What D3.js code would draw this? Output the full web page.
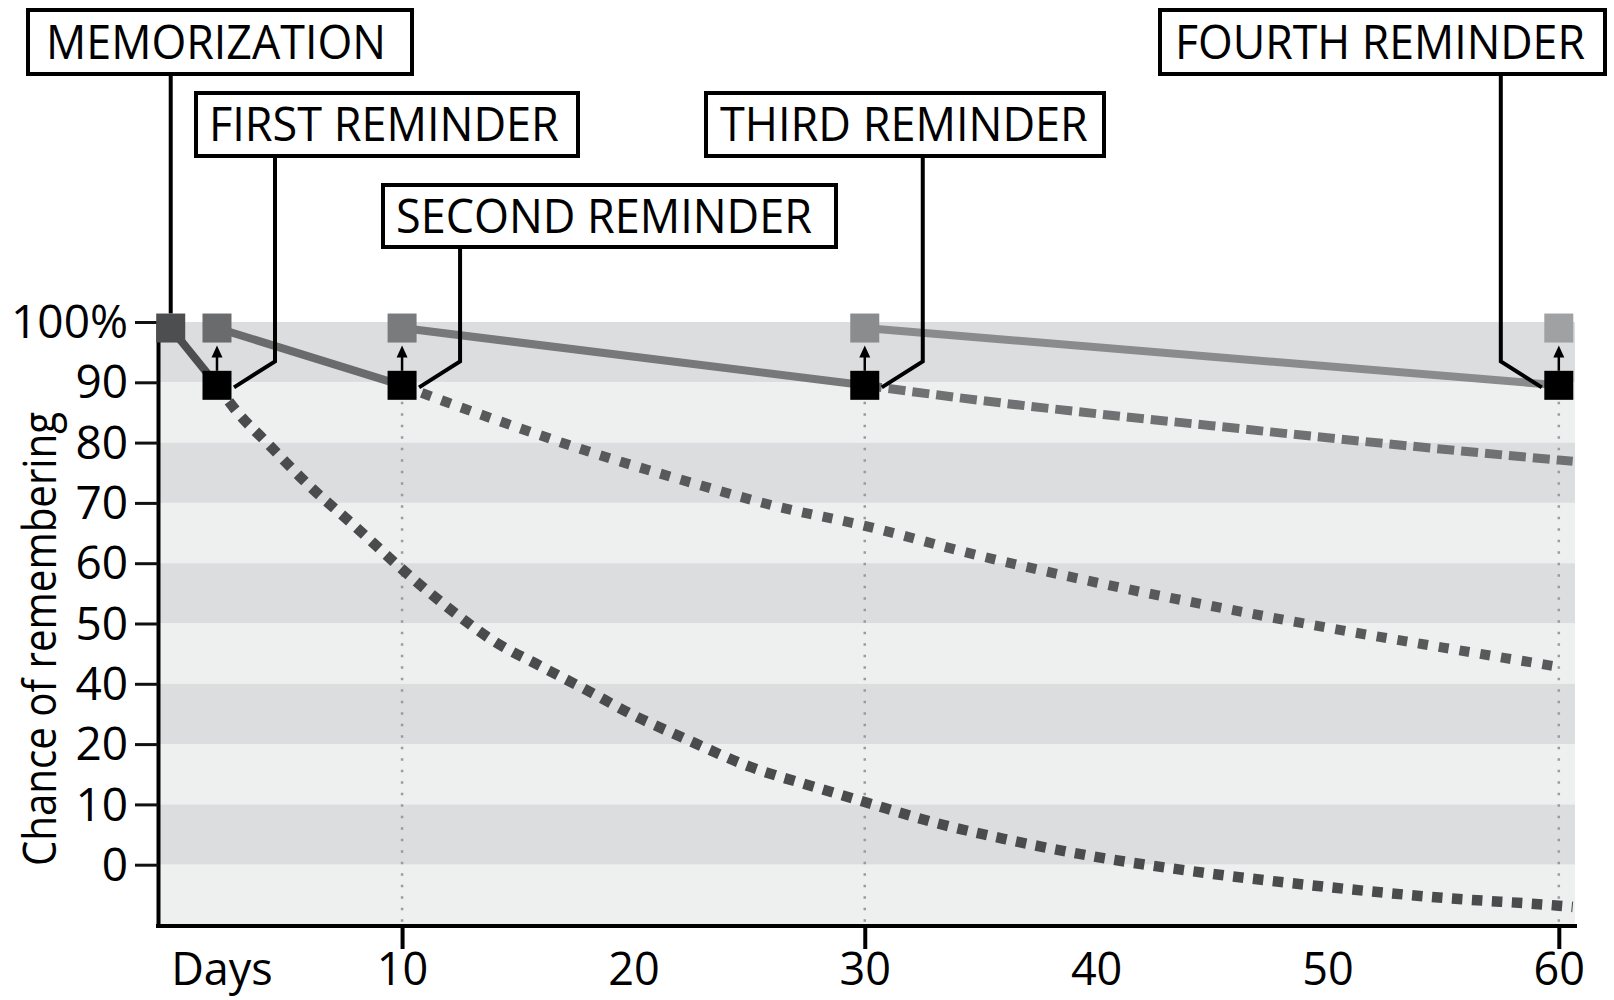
<!DOCTYPE html>
<html><head><meta charset="utf-8">
<script src="https://cdn.jsdelivr.net/npm/d3@7/dist/d3.min.js"></script>
<style>body{margin:0;background:#fff}svg{display:block}</style>
</head><body><svg id="c" width="1614" height="1000"></svg>
<script>
// ---------- data ----------
const reminderDays = [0, 2, 10, 30, 60];
const peakValue = 99;     // grey squares (after a review)
const dropValue = 89.5;   // black squares (just before a review)

const yTickValues = [100, 90, 80, 70, 60, 50, 40, 30, 20, 10];
const yTickLabels = ["100%", "90", "80", "70", "60", "50", "40", "20", "10", "0"];
const xTickValues = [10, 20, 30, 40, 50, 60];
const xTickLabels = ["10", "20", "30", "40", "50", "60"];
const xTickMarkDays = [10, 30, 60];

const decay1Days   = [2, 3, 4, 6, 8, 10, 12, 14, 16, 18, 20, 22, 25, 28, 30, 33, 36, 40, 45, 50, 55, 60, 60.6];
const decay1Values = [89.5, 84.5, 80.6, 72.8, 66, 59, 52.6, 47, 42.9, 38.9, 34.8, 31.3, 26.3, 22.7, 20.4, 17, 14.3, 11.3, 8.5, 6.3, 4.5, 3.2, 3.0];
const decay2Days   = [10, 12, 15, 18, 20, 23, 26, 30, 35, 40, 45, 50, 55, 60];
const decay2Values = [89.5, 86.6, 82.5, 78.6, 76.2, 72.8, 69.6, 66.2, 61.2, 56.8, 52.9, 49.3, 46, 42.8];
const decay3Days   = [30, 35, 40, 45, 50, 55, 60, 60.6];
const decay3Values = [89.5, 87, 84.8, 82.8, 80.8, 78.9, 77.1, 76.9];

const annotationLabels = ["MEMORIZATION", "FIRST REMINDER", "SECOND REMINDER", "THIRD REMINDER", "FOURTH REMINDER"];

// ---------- styles / layout ----------
const FONT = "'Open Sans', 'Noto Sans', sans-serif";
const peakColors = ["#4d4e50", "#6a6b6d", "#7a7b7d", "#8b8c8e", "#a0a1a3"];
const segColors  = ["#4d4e50", "#6a6b6d", "#77787a", "#8a8b8d"];
const boxLayout = [
  {x0: 28,   y0: 10, x1: 412,  y1: 74,  tx: 46,   tb: 59,  tw: 340, side: 0},
  {x0: 196,  y0: 93, x1: 578,  y1: 156, tx: 209,  tb: 141, tw: 350, side: 1},
  {x0: 383,  y0: 185, x1: 836, y1: 247, tx: 396,  tb: 233, tw: 416, side: 1},
  {x0: 706,  y0: 93, x1: 1104, y1: 156, tx: 720,  tb: 141, tw: 368, side: 1},
  {x0: 1160, y0: 10, x1: 1605, y1: 74,  tx: 1175, tb: 59,  tw: 410, side: -1}
];

const svg = d3.select("#c");
const x = d3.scaleLinear().domain([-0.55, 60.7]).range([158, 1575]);
const y = d3.scaleLinear().domain([0, 100]).range([925, 322]);
const SQ = 29;

// bands
const bandStarts = d3.range(100, 0, -10);
svg.append("g").selectAll("rect").data(bandStarts).join("rect")
  .attr("x", x.range()[0]).attr("width", x.range()[1] - x.range()[0])
  .attr("y", d => y(d)).attr("height", d => y(d - 10) - y(d))
  .attr("fill", (d, i) => i % 2 === 0 ? "#dcdddf" : "#eef0ef");

// dotted verticals
svg.append("g").selectAll("line").data(xTickMarkDays).join("line")
  .attr("x1", d => x(d)).attr("x2", d => x(d))
  .attr("y1", y(dropValue) + SQ / 2 + 2).attr("y2", y(0))
  .attr("stroke", "#9a9b9d").attr("stroke-width", 2.5)
  .attr("stroke-dasharray", "2.5 9");

// decay curves
const line = d3.line().x(d => x(d[0])).y(d => y(d[1])).curve(d3.curveMonotoneX);
const curves = [
  {days: decay1Days, vals: decay1Values, color: "#4a4b4d", w: 10.5, dash: "10.5 9.5"},
  {days: decay2Days, vals: decay2Values, color: "#58595b", w: 10, dash: "10 11"},
  {days: decay3Days, vals: decay3Values, color: "#707173", w: 9, dash: "17 7"}
];
svg.append("g").selectAll("path").data(curves).join("path")
  .attr("d", c => line(c.days.map((d, i) => [d, c.vals[i]])))
  .attr("fill", "none").attr("stroke", c => c.color)
  .attr("stroke-width", c => c.w).attr("stroke-dasharray", c => c.dash);

// solid segments: grey square -> next black square
const segs = reminderDays.slice(0, -1).map((d, i) => [[d, peakValue], [reminderDays[i + 1], dropValue]]);
svg.append("g").selectAll("path").data(segs).join("path")
  .attr("d", s => d3.line().x(p => x(p[0])).y(p => y(p[1]))(s))
  .attr("fill", "none").attr("stroke", (s, i) => segColors[i]).attr("stroke-width", 8);

// axes
const yAxis = d3.axisLeft(y).tickValues(yTickValues).tickFormat((d, i) => yTickLabels[i])
  .tickSize(23).tickSizeOuter(0).tickPadding(7);
const gy = svg.append("g").attr("transform", `translate(${x.range()[0]},0)`).call(yAxis);
gy.select(".domain").attr("stroke", "#000").attr("stroke-width", 4);
gy.selectAll(".tick line").attr("stroke", "#111").attr("stroke-width", 3);
gy.selectAll(".tick text").attr("font-family", FONT).attr("font-size", 46).attr("fill", "#000").attr("dy", "0.34em");

const xAxisLabels = d3.axisBottom(x).tickValues(xTickValues).tickFormat((d, i) => xTickLabels[i])
  .tickSize(0).tickSizeOuter(0).tickPadding(27);
const gx = svg.append("g").attr("transform", `translate(0,${y(0) + 1})`).call(xAxisLabels);
gx.select(".domain").attr("stroke", "#000").attr("stroke-width", 4)
  .attr("d", `M${x.range()[0] - 2},0H${x.range()[1] + 2}`);
gx.selectAll(".tick text").attr("font-family", FONT).attr("font-size", 45).attr("fill", "#000");
const xAxisMarks = d3.axisBottom(x).tickValues(xTickMarkDays).tickFormat("").tickSize(23).tickSizeOuter(0);
const gm = svg.append("g").attr("transform", `translate(0,${y(0) + 1})`).call(xAxisMarks);
gm.select(".domain").remove();
gm.selectAll(".tick line").attr("stroke", "#000").attr("stroke-width", 4);
svg.append("text").attr("x", 222).attr("y", 985).attr("text-anchor", "middle")
  .attr("font-family", FONT).attr("font-size", 45).text("Days");

// y title
svg.append("text").attr("transform", `translate(56,${(412 + 866) / 2}) rotate(-90)`)
  .attr("text-anchor", "middle").attr("font-family", FONT).attr("font-size", 46)
  .attr("textLength", 454).attr("lengthAdjust", "spacingAndGlyphs")
  .text("Chance of remembering");

// annotation leaders
const lead = svg.append("g").attr("fill", "none").attr("stroke", "#000").attr("stroke-width", 4);
reminderDays.forEach((d, i) => {
  const b = boxLayout[i];
  if (b.side === 0) {
    lead.append("path").attr("d", `M${x(d)},${b.y1}V${y(peakValue) - SQ / 2}`);
  } else {
    const vx = x(d) + b.side * 58;
    lead.append("path").attr("d",
      `M${vx},${b.y1}V${y(dropValue) - 24}L${x(d) + b.side * 17},${y(dropValue) + 2}`);
  }
});

// annotation boxes
const boxes = svg.append("g").selectAll("g").data(annotationLabels).join("g");
boxes.append("rect")
  .attr("x", (d, i) => boxLayout[i].x0).attr("y", (d, i) => boxLayout[i].y0)
  .attr("width", (d, i) => boxLayout[i].x1 - boxLayout[i].x0)
  .attr("height", (d, i) => boxLayout[i].y1 - boxLayout[i].y0)
  .attr("fill", "#fff").attr("stroke", "#000").attr("stroke-width", 4);
boxes.append("text")
  .attr("font-family", FONT).attr("font-size", 48).attr("fill", "#000")
  .text(d => d)
  .each(function (d, i) {
    const b = boxLayout[i];
    const natural = this.getComputedTextLength() || b.tw;
    const sx = b.tw / natural;
    d3.select(this).attr("transform", `translate(${b.tx},${b.tb}) scale(${sx},1)`);
  });

// squares
svg.append("g").selectAll("rect").data(reminderDays).join("rect")
  .attr("x", d => x(d) - SQ / 2).attr("y", y(peakValue) - SQ / 2)
  .attr("width", SQ).attr("height", SQ).attr("fill", (d, i) => peakColors[i]);
svg.append("g").selectAll("rect").data(reminderDays.slice(1)).join("rect")
  .attr("x", d => x(d) - SQ / 2).attr("y", y(dropValue) - SQ / 2)
  .attr("width", SQ).attr("height", SQ).attr("fill", "#000");

// arrows
const arr = svg.append("g").selectAll("g").data(reminderDays.slice(1)).join("g");
arr.append("line").attr("x1", d => x(d)).attr("x2", d => x(d))
  .attr("y1", y(dropValue) - SQ / 2).attr("y2", y(peakValue) + SQ / 2 + 12)
  .attr("stroke", "#000").attr("stroke-width", 2.5);
arr.append("path").attr("fill", "#000")
  .attr("d", d => `M${x(d) - 5.5},${y(peakValue) + SQ / 2 + 15}L${x(d) + 5.5},${y(peakValue) + SQ / 2 + 15}L${x(d)},${y(peakValue) + SQ / 2 + 3}Z`);
</script></body></html>
